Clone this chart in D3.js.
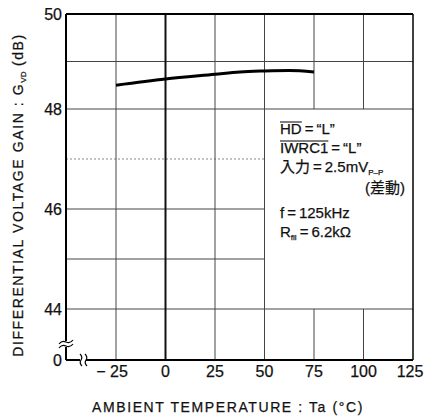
<!DOCTYPE html>
<html>
<head>
<meta charset="utf-8">
<script src="https://cdn.jsdelivr.net/npm/d3@7"></script>
<style>
  body { margin: 0; background: #fff; }
  svg { display: block; }
  text { font-family: "Liberation Sans", Arial, "Noto Sans CJK JP", sans-serif; fill: #111; stroke: #111; stroke-width: 0.25px; }
  .jp { font-family: "Noto Sans CJK JP", sans-serif; }
</style>
</head>
<body>
<svg id="chart" width="424" height="420"></svg>
<script>
// curve
var temps = [-25, 0, 25, 37.5, 50, 62.5, 75];
var gains = [48.5, 48.63, 48.73, 48.78, 48.8, 48.81, 48.78];

var xTicks = [-25, 0, 25, 50, 75, 100, 125];
var xTickLabels = ["\u2212 25", "0", "25", "50", "75", "100", "125"];
var yTicks = [0, 44, 46, 48, 50];
var yGrid = [44, 45, 46, 47, 48, 49];
var xGrid = [-25, 0, 25, 50, 75, 100];

var svg = d3.select("#chart");

// y has a break between 0 and 44, scan is a bit uneven so use a polylinear scale
var x = d3.scaleLinear().domain([-25, 125]).range([116, 413]);
var y = d3.scaleLinear().domain([0, 44, 46, 48, 50]).range([360, 309, 209, 109, 14]);
var left = 66;

var g = svg.append("g");

// legend box area: grid is not drawn under the notes
var noteX = x(50), noteTop = y(48), noteBottom = y(44);

// horizontal grid
yGrid.forEach(function (v) {
  var x2 = (v > 44 && v < 48) ? noteX : x(125);
  g.append("line")
    .attr("x1", left).attr("x2", x2)
    .attr("y1", y(v)).attr("y2", y(v))
    .attr("stroke", v == 47 ? "#888" : "#444")
    .attr("stroke-dasharray", v == 47 ? "2,2" : null)
    .attr("stroke-width", 1);
});

// vertical grid
xGrid.forEach(function (v) {
  var segs = (v > 50) ? [[y(50), noteTop], [noteBottom, y(0)]] : [[y(50), y(0)]];
  segs.forEach(function (s) {
    g.append("line")
      .attr("x1", x(v)).attr("x2", x(v))
      .attr("y1", s[0]).attr("y2", s[1])
      .attr("stroke", v == 0 ? "#111" : "#444")
      .attr("stroke-width", v == 0 ? 2 : 1);
  });
});

// frame
g.append("line").attr("x1", left).attr("x2", x(125)).attr("y1", y(50)).attr("y2", y(50))
  .attr("stroke", "#000").attr("stroke-width", 2);
g.append("line").attr("x1", x(125)).attr("x2", x(125)).attr("y1", y(50)).attr("y2", y(0))
  .attr("stroke", "#000").attr("stroke-width", 1.5);
g.append("line").attr("x1", left).attr("x2", left).attr("y1", y(50)).attr("y2", y(0))
  .attr("stroke", "#000").attr("stroke-width", 2);
g.append("line").attr("x1", left).attr("x2", x(125)).attr("y1", y(0)).attr("y2", y(0))
  .attr("stroke", "#000").attr("stroke-width", 2);

// axis breaks
var yb = 345;
g.append("rect").attr("x", left - 4).attr("y", yb - 4).attr("width", 8).attr("height", 6).attr("fill", "#fff");
[yb - 3, yb + 1].forEach(function (yy) {
  g.append("path")
    .attr("d", "M" + (left - 7) + "," + (yy + 2) + " q3,-4 7,-2 t7,-2")
    .attr("fill", "none").attr("stroke", "#000").attr("stroke-width", 1.2);
});
var xb = 83;
g.append("rect").attr("x", xb - 3).attr("y", y(0) - 3).attr("width", 6).attr("height", 6).attr("fill", "#fff");
[xb - 3, xb + 2].forEach(function (xx) {
  g.append("path")
    .attr("d", "M" + xx + "," + (y(0) - 6) + " q3,3 1,6 t1,6")
    .attr("fill", "none").attr("stroke", "#000").attr("stroke-width", 1.2);
});

// data line
var line = d3.line()
  .curve(d3.curveMonotoneX)
  .x(function (d, i) { return x(temps[i]); })
  .y(function (d) { return y(d); });

g.append("path")
  .datum(gains)
  .attr("d", line)
  .attr("fill", "none")
  .attr("stroke", "#000")
  .attr("stroke-width", 3);

// tick labels
g.selectAll(".ylab").data(yTicks).enter().append("text")
  .attr("x", 62).attr("y", function (d) { return y(d) + 6; })
  .attr("text-anchor", "end")
  .style("font-size", "16px")
  .text(function (d) { return d; });

g.selectAll(".xlab").data(xTicks).enter().append("text")
  .attr("x", function (d) { return x(d) + (d == 125 ? -3 : 0) + (d == -25 ? -4 : 0); })
  .attr("y", 377)
  .attr("text-anchor", "middle")
  .style("font-size", "16px")
  .text(function (d, i) { return xTickLabels[i]; });

// axis titles
svg.append("text")
  .attr("x", 228).attr("y", 412)
  .attr("text-anchor", "middle")
  .style("font-size", "14px")
  .style("letter-spacing", "1.6px")
  .text("AMBIENT TEMPERATURE : Ta (\u00b0C)");

var yt = svg.append("text")
  .attr("transform", "translate(23,195) rotate(-90)")
  .attr("text-anchor", "middle")
  .style("font-size", "14px")
  .style("letter-spacing", "1.6px");
yt.append("tspan").text("DIFFERENTIAL VOLTAGE GAIN : G");
yt.append("tspan").attr("dy", 3).style("font-size", "8px").style("letter-spacing", "0px").text("VD");
yt.append("tspan").attr("dy", -3).text(" (dB)");

// condition notes
var nx = 280, fs = "15px";
function over(t) {
  var b = t.node().getBBox();
  svg.append("line").attr("x1", b.x).attr("x2", b.x + b.width)
    .attr("y1", b.y + 2).attr("y2", b.y + 2).attr("stroke", "#000").attr("stroke-width", 1);
}

var t1 = svg.append("text").attr("x", nx).attr("y", 134).style("font-size", fs);
t1.append("tspan").text("HD");
t1.append("tspan").text("\u2009=\u2009\u201cL\u201d");
var b1 = svg.append("text").attr("x", nx).attr("y", 134).style("font-size", fs).style("fill", "none").style("stroke", "none").text("HD");
over(b1);

var t2 = svg.append("text").attr("x", nx).attr("y", 153).style("font-size", fs);
t2.append("tspan").text("IWRC1");
t2.append("tspan").text("\u2009=\u2009\u201cL\u201d");
var b2 = svg.append("text").attr("x", nx).attr("y", 153).style("font-size", fs).style("fill", "none").style("stroke", "none").text("IWRC1");
over(b2);

var t3 = svg.append("text").attr("x", nx).attr("y", 172).style("font-size", fs);
t3.append("tspan").attr("class", "jp").text("入力");
t3.append("tspan").text("\u2009=\u20092.5mV");
t3.append("tspan").attr("dy", 3).style("font-size", "8px").text("P\u2013P");

var t4 = svg.append("text").attr("x", 405).attr("y", 193).attr("text-anchor", "end").style("font-size", fs);
t4.append("tspan").text("(");
t4.append("tspan").attr("class", "jp").text("差動");
t4.append("tspan").text(")");

svg.append("text").attr("x", nx).attr("y", 218).style("font-size", fs).text("f\u2009=\u2009125kHz");

var t6 = svg.append("text").attr("x", nx).attr("y", 237).style("font-size", fs);
t6.append("tspan").text("R");
t6.append("tspan").attr("dy", 3).style("font-size", "8px").text("fil");
t6.append("tspan").attr("dy", -3).text("\u2009=\u20096.2k\u03a9");
</script>
</body>
</html>
